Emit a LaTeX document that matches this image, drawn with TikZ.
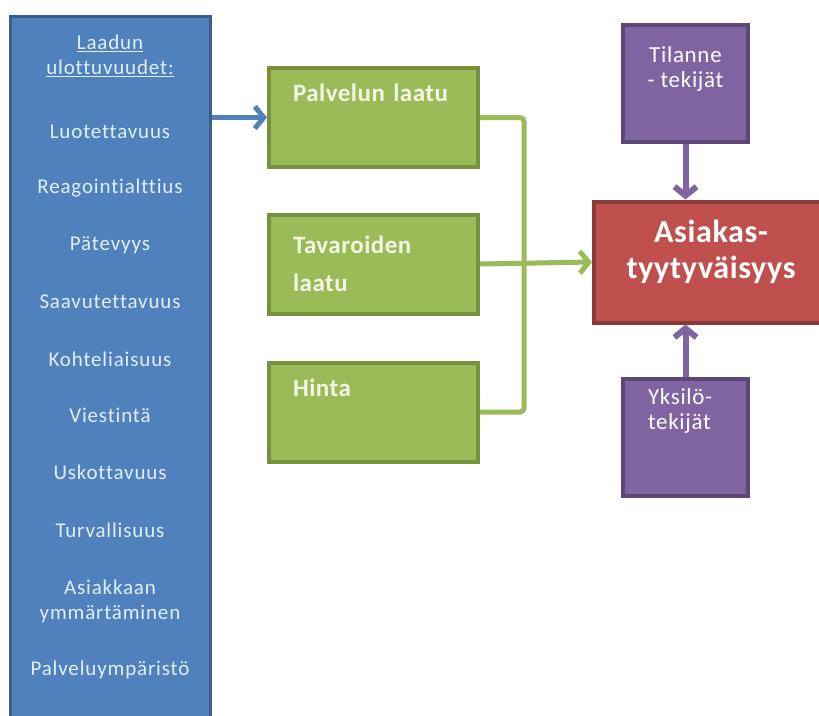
\documentclass[tikz,border=0pt]{standalone}
\usepackage{fontspec}
\setmainfont{Carlito}[Ligatures=NoCommon]
\usetikzlibrary{positioning,arrows.meta}

\definecolor{dimfill}{HTML}{4F81BD}
\definecolor{dimline}{HTML}{3A5F8C}
\definecolor{dimtxt}{HTML}{E2EEF9}
\definecolor{facfill}{HTML}{9BBB59}
\definecolor{facline}{HTML}{76923C}
\definecolor{factxt}{HTML}{F2F6E4}
\definecolor{satfill}{HTML}{C0504D}
\definecolor{satline}{HTML}{8C3A37}
\definecolor{sidefill}{HTML}{8064A2}
\definecolor{sideline}{HTML}{5C4776}

\tikzset{
  dimbox/.style={draw=dimline, fill=dimfill, line width=3pt, minimum width=200pt, minimum height=720pt, inner sep=0pt},
  dimtext/.style={text=dimtxt, font=\addfontfeatures{LetterSpace=4}\fontsize{21}{25}\selectfont, align=center, inner sep=0pt},
  factorbox/.style={draw=facline, fill=facfill, line width=4pt, minimum width=209pt, minimum height=99pt,
    text width=161pt, inner xsep=24pt, align=left, text=factxt,
    font=\bfseries\addfontfeatures{LetterSpace=2}\fontsize{25}{38}\selectfont},
  satbox/.style={draw=satline, fill=satfill, line width=4pt, minimum width=234pt, minimum height=121pt,
    align=center, text=white, font=\bfseries\addfontfeatures{LetterSpace=2}\fontsize{32}{38}\selectfont},
  sidebox/.style={draw=sideline, fill=sidefill, line width=4pt, minimum width=125pt, minimum height=117pt,
    text=white, font=\addfontfeatures{LetterSpace=3}\fontsize{23}{25}\selectfont},
  tip/.style={-{Straight Barb[length=9pt, width=22pt]}},
  bline/.style={tip, draw=dimfill, line width=5pt},
  gline/.style={draw=facfill, line width=5pt, rounded corners=4pt},
  pline/.style={tip, draw=sidefill, line width=6pt}
}

\begin{document}
\begin{tikzpicture}[x=1pt, y=-1pt]
  \clip (0,0) rectangle (819,715);
  \fill[white] (0,0) rectangle (819,715);

  % quality dimensions
  \node[dimbox] (dims) at (110,376) {};
  \node[dimtext] (dtitle) at (110,56) {\underline{Laadun}\\\underline{ulottuvuudet:}};
  \foreach \y/\t [count=\i] in {132/Luotettavuus, 188/Reagointialttius, 245/Pätevyys,
      302/Saavutettavuus, 359/Kohteliaisuus, 415/Viestintä, 472/Uskottavuus,
      530/Turvallisuus, 601/{Asiakkaan\\ymmärtäminen}, 670/Palveluympäristö}
    \node[dimtext] (d\i) at (110,\y) {\t};

  % factors
  \node[factorbox] (pal) at (373.5,117.5) {Palvelun laatu\\\strut};
  \node[factorbox] (tav) at (373.5,264) {Tavaroiden\\laatu};
  \node[factorbox] (hin) at (373.5,412) {Hinta\\\strut};

  \node[satbox] (asi) at (711,262) {Asiakas-\\[-2pt]tyytyväisyys\\[-24pt]\strut};

  \node[sidebox, align=center] (til) at (685.5,83.5) {Tilanne\\- tekijät\\\strut};
  \node[sidebox, align=left, text width=75pt, inner xsep=25pt] (yks) at (685.5,437.5)
    {Yksilö-\\tekijät\\\strut\\\strut};

  % connectors
  \draw[bline] (dims.east |- pal.west) -- (pal.west);
  \draw[gline] (pal.east) -- ++(44,0) |- (hin.east);
  \draw[gline, tip, rounded corners=0pt] (tav.east) -- (asi.west);
  \draw[pline] (til.south) -- (til.south |- asi.north);
  \draw[pline] (yks.north) -- (yks.north |- asi.south);
\end{tikzpicture}
\end{document}
